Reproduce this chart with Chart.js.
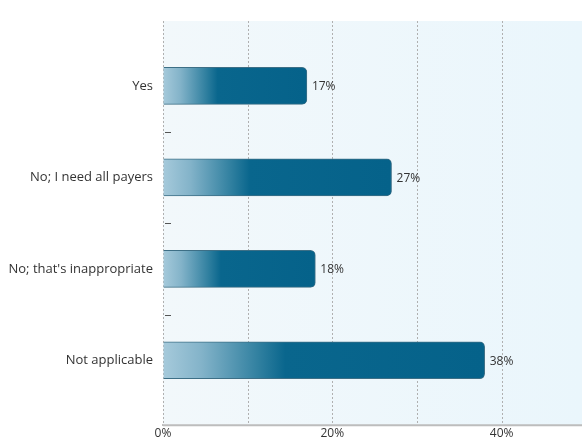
<!DOCTYPE html>
<html>
<head>
<meta charset="utf-8">
<script src="https://cdn.jsdelivr.net/npm/chart.js@4/dist/chart.umd.min.js"></script>
<style>
  html, body { margin: 0; padding: 0; background: #fff; }
  #wrap { width: 582px; height: 443px; }
</style>
</head>
<body>
<div id="wrap"><canvas id="myChart"></canvas></div>
<script>
const answers = ["Yes", "No; I need all payers", "No; that's inappropriate", "Not applicable"];
const shares = [17, 27, 18, 38];
const xTicks = [0, 20, 40];

// light blue panel, dotted vertical grid and the bottom axis line
const panelBackground = {
  id: "panelBackground",
  beforeDatasetsDraw(chart) {
    const { ctx, chartArea: a } = chart;
    const x = chart.scales.x;
    const g = ctx.createLinearGradient(a.left, 0, a.right, 0);
    g.addColorStop(0, "#f2f8fb");
    g.addColorStop(1, "#eaf6fc");
    ctx.save();
    ctx.fillStyle = g;
    ctx.fillRect(a.left, a.top, a.right - a.left, a.bottom - a.top);

    ctx.strokeStyle = "#b0b0b0";
    ctx.lineWidth = 1;
    ctx.setLineDash([2, 2]);
    x.ticks.forEach((t) => {
      const px = Math.round(x.getPixelForValue(t.value)) + 0.5;
      ctx.beginPath();
      ctx.moveTo(px, a.top);
      ctx.lineTo(px, a.bottom);
      ctx.stroke();
    });

    ctx.setLineDash([]);
    ctx.strokeStyle = "#bdbdbd";
    ctx.lineWidth = 2;
    ctx.beginPath();
    ctx.moveTo(a.left, a.bottom);
    ctx.lineTo(a.right, a.bottom);
    ctx.stroke();
    ctx.restore();
  },
};

// little dashes between the answers on the y axis
const separators = {
  id: "separators",
  afterDraw(chart) {
    const { ctx, chartArea: a } = chart;
    const y = chart.scales.y;
    ctx.save();
    ctx.strokeStyle = "#555";
    ctx.lineWidth = 1;
    for (let i = 0; i < answers.length - 1; i++) {
      const py = Math.round(y.getPixelForValue(i + 0.5)) + 0.5;
      ctx.beginPath();
      ctx.moveTo(a.left + 2, py);
      ctx.lineTo(a.left + 8, py);
      ctx.stroke();
    }
    ctx.restore();
  },
};

// percentage text at the end of each bar
const valueLabels = {
  id: "valueLabels",
  afterDatasetsDraw(chart) {
    const { ctx } = chart;
    const meta = chart.getDatasetMeta(0);
    ctx.save();
    ctx.font = "12px 'Open Sans'";
    ctx.fillStyle = "#333";
    ctx.textBaseline = "middle";
    meta.data.forEach((bar, i) => {
      ctx.fillText(shares[i] + "%", bar.x + 5, bar.y + 1);
    });
    ctx.restore();
  },
};

function barGradient(context) {
  const chart = context.chart;
  if (!chart.chartArea) return "#06658c";
  const x = chart.scales.x;
  const start = x.getPixelForValue(0);
  const end = x.getPixelForValue(shares[context.dataIndex]);
  const g = chart.ctx.createLinearGradient(start, 0, end, 0);
  g.addColorStop(0, "#a6cadb");
  g.addColorStop(0.12, "#83b3c9");
  g.addColorStop(0.3, "#2f7f9f");
  g.addColorStop(0.38, "#09668d");
  g.addColorStop(1, "#05628a");
  return g;
}

const ctx = document.getElementById("myChart").getContext("2d");

var chart = new Chart(ctx, {
  type: "bar",
  data: {
    datasets: [
      {
        data: shares.map((v, i) => ({ x: v, y: i })),
        backgroundColor: barGradient,
        borderColor: "#3d6f86",
        borderWidth: 1,
        borderRadius: 5,
        borderSkipped: "start",
        barThickness: 37,
      },
    ],
  },
  options: {
    indexAxis: "y",
    responsive: true,
    maintainAspectRatio: false,
    animation: false,
    layout: { padding: { top: 21, right: 0, left: 0, bottom: 0 } },
    plugins: {
      legend: { display: false },
      tooltip: { enabled: false },
    },
    scales: {
      x: {
        type: "linear",
        min: 0,
        max: 49.5,
        ticks: {
          stepSize: 10,
          includeBounds: false,
          maxRotation: 0,
          padding: 2,
          color: "#333",
          font: { family: "Open Sans", size: 12, lineHeight: 1.1 },
          callback: (v) => (xTicks.includes(v) ? v + "%" : ""),
        },
        // grid is drawn by panelBackground
        grid: { color: "rgba(0,0,0,0)", drawTicks: false },
        border: { display: true, color: "#bdbdbd", width: 2 },
      },
      y: {
        type: "linear",
        reverse: true,
        offset: false,
        min: -0.71,
        max: 3.71,
        afterFit(scale) {
          scale.width = 163;
        },
        ticks: {
          stepSize: 1,
          includeBounds: false,
          padding: 10,
          color: "#333",
          font: { family: "Open Sans", size: 13 },
          callback: (v) => (Number.isInteger(v) ? answers[v] || "" : ""),
        },
        grid: { display: false, drawTicks: false },
        border: { display: false },
      },
    },
  },
  plugins: [panelBackground, separators, valueLabels],
});
</script>
</body>
</html>
